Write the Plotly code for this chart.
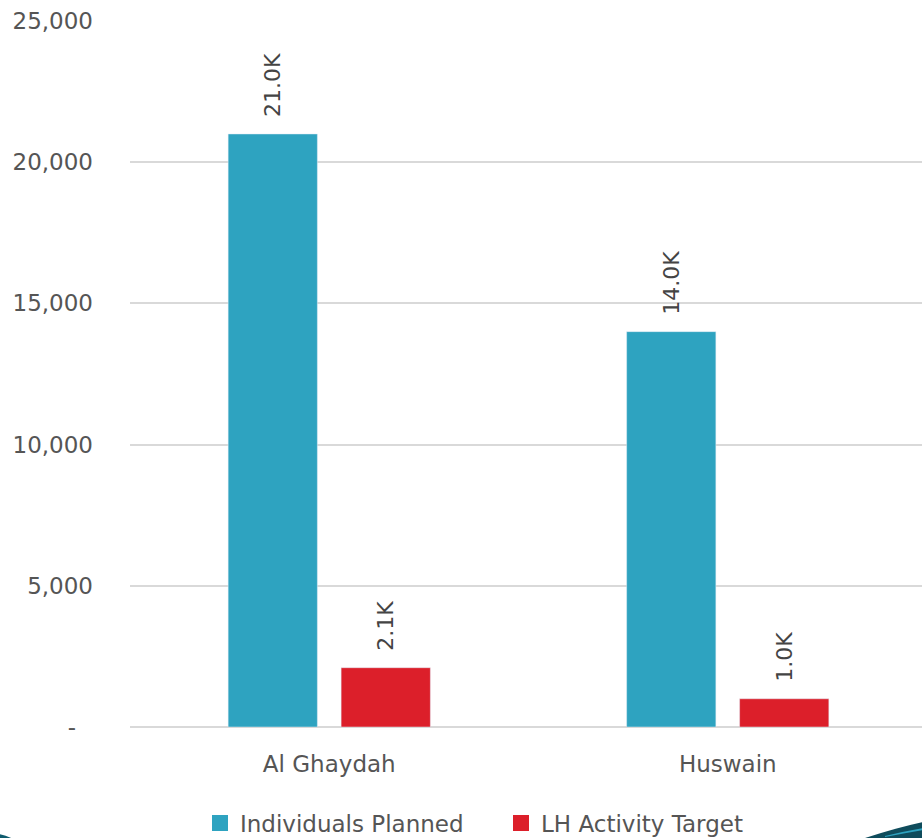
import plotly.graph_objects as go

categories = ["Al Ghaydah", "Huswain"]
individuals_planned = [21000, 14000]
lh_activity_target = [2100, 1000]
labels_planned = ["21.0K", "14.0K"]
labels_target = ["2.1K", "1.0K"]
series_names = ["Individuals Planned", "LH Activity Target"]
series_colors = ["#2EA3C0", "#DC1F2A"]
ytick_vals = [0, 5000, 10000, 15000, 20000, 25000]
ytick_text = ["-\u00a0\u00a0\u200a", "5,000", "10,000", "15,000", "20,000", "25,000"]

FONT = "DejaVu Sans"
PAD = "\u00a0\u00a0"
fig = go.Figure()
for vals, labels, name, color in zip([individuals_planned, lh_activity_target],
                                     [labels_planned, labels_target],
                                     series_names, series_colors):
    fig.add_trace(go.Bar(
        x=categories, y=vals, name=name, marker_color=color,
        text=[PAD + t for t in labels], textposition="outside",
        textangle=-90, textfont=dict(family=FONT, size=22, color="#444"),
        cliponaxis=False, showlegend=False,
    ))
# legend proxies with larger square symbols
for name, color in zip(series_names, series_colors):
    fig.add_trace(go.Scatter(
        x=[None], y=[None], mode="markers", name=name,
        marker=dict(symbol="square", size=16, color=color),
    ))

# decorative slide corner swooshes (pixel -> paper coordinates)
L, R, T, B = 130, 922, 21, 727
def px(x): return (x - L) / (R - L)
def py(y): return (B - y) / (B - T)
shapes = [
    dict(type="path", xref="paper", yref="paper", layer="above",
         path=f"M {px(862)} {py(839)} Q {px(895)} {py(828)} {px(923)} {py(822)} L {px(923)} {py(839)} Z",
         fillcolor="#0F4C5C", line=dict(width=0)),
    dict(type="path", xref="paper", yref="paper", layer="above",
         path=f"M {px(885)} {py(836)} Q {px(905)} {py(831)} {px(923)} {py(828)} L {px(923)} {py(830)} Q {px(905)} {py(833)} {px(885)} {py(837)} Z",
         fillcolor="#2EA3C0", line=dict(width=0)),
    dict(type="path", xref="paper", yref="paper", layer="above",
         path=f"M {px(-1)} {py(834)} Q {px(6)} {py(835)} {px(13)} {py(839)} L {px(-1)} {py(839)} Z",
         fillcolor="#0F5C6E", line=dict(width=0)),
]

fig.update_layout(
    width=922, height=838,
    margin=dict(l=130, r=0, t=21, b=111, autoexpand=False),
    paper_bgcolor="white", plot_bgcolor="white",
    barmode="group", bargap=0.433, bargroupgap=0.21,
    font=dict(family=FONT, size=23, color="#555"),
    showlegend=True,
    legend=dict(orientation="h", xref="container", x=200 / 922, xanchor="left",
                yref="paper", y=(727 - 823) / 706, yanchor="middle",
                font=dict(family=FONT, size=23, color="#555"),
                itemwidth=30, tracegroupgap=0,
                entrywidth=256, entrywidthmode="pixels"),
    xaxis=dict(range=[-0.5, 1.4875], showgrid=False, showline=False, ticks="",
               ticklabelstandoff=21,
               tickfont=dict(family=FONT, size=23, color="#555")),
    yaxis=dict(range=[0, 25000], tickvals=ytick_vals, ticktext=ytick_text,
               showgrid=True, gridcolor="#D9D9D9", gridwidth=1.5,
               zeroline=True, zerolinecolor="#D9D9D9", zerolinewidth=2,
               showline=False, ticks="", ticklabelstandoff=36,
               tickfont=dict(family=FONT, size=23, color="#555")),
    shapes=shapes,
)
fig.write_html("out.html", config={"displayModeBar": False},
               post_script="document.body.style.margin='0';document.body.style.overflow='hidden';")
